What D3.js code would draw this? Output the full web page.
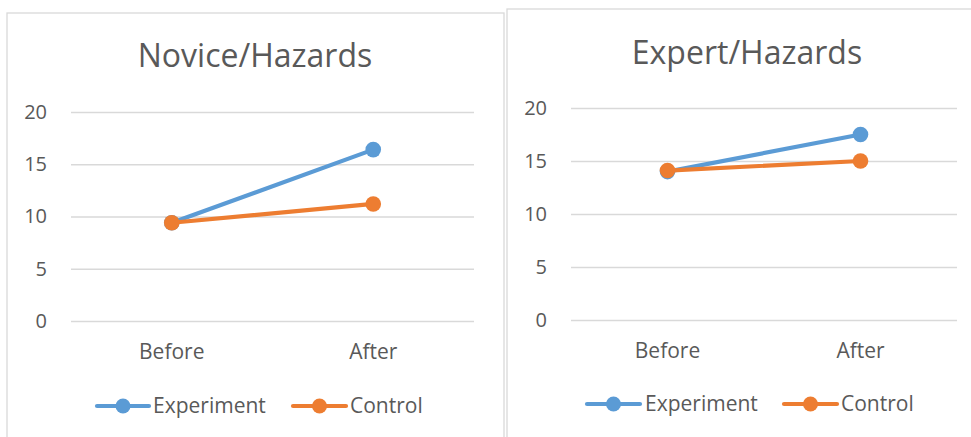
<!DOCTYPE html>
<html>
<head>
<meta charset="utf-8">
<script src="https://cdn.jsdelivr.net/npm/d3@7"></script>
<style>
  html, body { margin: 0; padding: 0; background: #fff; }
  svg { display: block; }
  text { font-family: "Open Sans", "Noto Sans", sans-serif; fill: #595959; }
</style>
</head>
<body>
<svg id="chart" width="971" height="437"></svg>
<script>
// ---- data ----
const categories = ["Before", "After"];
const yTicks = [0, 5, 10, 15, 20];
const seriesNames = ["Experiment", "Control"];
const seriesColors = ["#5B9BD5", "#ED7D31"];
const noviceTitle = "Novice/Hazards";
const noviceExperiment = [9.4, 16.4];
const noviceControl = [9.4, 11.2];
const expertTitle = "Expert/Hazards";
const expertExperiment = [14.0, 17.5];
const expertControl = [14.1, 15.0];

const svg = d3.select("#chart");

function drawPanel(p) {
  const g = svg.append("g");
  // panel border
  g.append("rect")
    .attr("x", p.box[0]).attr("y", p.box[1])
    .attr("width", p.box[2]).attr("height", 500)
    .attr("fill", "#fff").attr("stroke", "#d9d9d9").attr("stroke-width", 1.3);

  const x = d3.scaleBand().domain(categories).range([p.plot[0], p.plot[1]]);
  const y = d3.scaleLinear().domain([0, 20]).range([p.plot[3], p.plot[2]]);

  // title
  g.append("text")
    .attr("x", p.titleX).attr("y", p.titleY)
    .attr("text-anchor", "middle")
    .style("font-size", "32px")
    .text(p.title);

  // gridlines + y labels via axis
  const yAxis = d3.axisLeft(y).tickValues(yTicks)
    .tickSize(-(p.plot[1] - p.plot[0])).tickPadding(24).tickFormat(d3.format("d"));
  const ya = g.append("g").attr("transform", `translate(${p.plot[0]},0)`).call(yAxis);
  ya.select(".domain").remove();
  ya.selectAll(".tick line").attr("stroke", "#d9d9d9").attr("stroke-width", 1.5);
  ya.selectAll(".tick text").attr("fill", "#595959")
    .style("font-size", "20px").style("font-family", '"Open Sans", sans-serif');

  // x labels via axis
  const xAxis = d3.axisBottom(x).tickSize(0).tickPadding(0);
  const xa = g.append("g").attr("transform", `translate(0,${p.plot[3]})`).call(xAxis);
  xa.select(".domain").remove();
  xa.selectAll(".tick text").attr("fill", "#595959").attr("dy", null)
    .attr("y", p.catBaseline - p.plot[3])
    .style("font-size", "21px").style("font-family", '"Open Sans", sans-serif');

  const cx = d => x(d) + x.bandwidth() / 2;
  const line = d3.line().x((d, i) => cx(categories[i])).y(d => y(d));

  p.series.forEach((vals, si) => {
    g.append("path").datum(vals)
      .attr("d", line).attr("fill", "none")
      .attr("stroke", seriesColors[si]).attr("stroke-width", 4.2)
      .attr("stroke-linecap", "round");
    g.selectAll(null).data(vals).enter().append("circle")
      .attr("cx", (d, i) => cx(categories[i])).attr("cy", d => y(d))
      .attr("r", 7.8).attr("fill", seriesColors[si]);
  });

  // legend
  seriesNames.forEach((name, si) => {
    const L = p.legend[si];
    g.append("line").attr("x1", L[0]).attr("x2", L[1])
      .attr("y1", p.legendY).attr("y2", p.legendY)
      .attr("stroke", seriesColors[si]).attr("stroke-width", 4.2).attr("stroke-linecap", "round");
    g.append("circle").attr("cx", (L[0] + L[1]) / 2).attr("cy", p.legendY)
      .attr("r", 7.5).attr("fill", seriesColors[si]);
    g.append("text").attr("x", L[2]).attr("y", p.legendY + 7)
      .style("font-size", "21px").text(name);
  });
}

drawPanel({
  box: [7, 13, 497],
  plot: [71, 474, 112, 321],
  title: noviceTitle, titleX: 255, titleY: 67,
  catBaseline: 359,
  series: [noviceExperiment, noviceControl],
  legendY: 406,
  legend: [[97, 149, 153], [293, 346, 350]]
});

drawPanel({
  box: [507, 9, 481],
  plot: [571, 957, 108, 320],
  title: expertTitle, titleX: 747, titleY: 64,
  catBaseline: 358,
  series: [expertExperiment, expertControl],
  legendY: 404,
  legend: [[587, 640, 645], [784, 837, 841]]
});
</script>
</body>
</html>
